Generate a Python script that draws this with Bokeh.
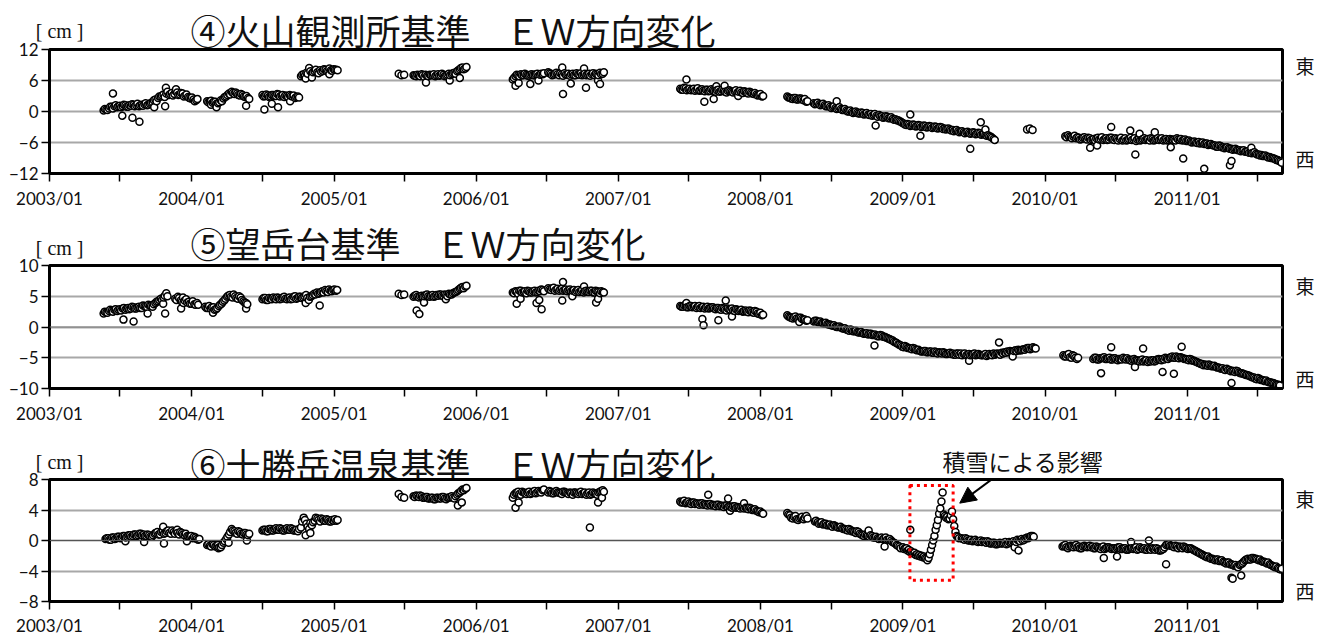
import numpy as np
from bokeh.plotting import figure
from bokeh.layouts import column
from bokeh.models import (Range1d, FixedTicker, CustomJSTickFormatter, Label, Arrow,
                          NormalHead, BoxAnnotation, Span, LinearAxis)
from bokeh.embed import file_html
from bokeh.resources import INLINE

# ---------------------------------------------------------------- data
WEEK = 7          # base readings every 7 days
MID_OFFSET = 3    # second readings 3 days after each base reading
SNOW_STEP = 3

# ④ 火山観測所基準 (EW, cm)
kazan_a = [0.2, 0.4, 0.6, 0.9, 1.0, 0.8, 1.1, 1.0, 1.2, 0.9, 1.1, 1.3, 1.2, 1.0, 1.3, 1.4, 1.2, 1.5,
           1.8, 2.3, 2.6, 2.9, 3.3, 3.5, 3.2, 3.6, 3.4, 3.7, 3.3, 3.5, 3.1, 2.8, 2.5, 2.3, 2.2]
kazan_a_mid = [0.5, 0.3, 0.9, 0.6, 1.2, 1.0, 0.8, 1.3, 0.9, 1.2, 1.4, 1.0, 1.5, 1.2, 1.1, 1.6, 1.3, 1.7,
               2.2, 2.0, 2.9, 3.1, 2.8, 3.8, 3.4, 3.1, 3.9, 3.2, 3.6, 2.9, 3.3, 2.6, 2.7, 2.0, 2.4]
kazan_b = [2.0, 1.9, 1.7, 1.9, 1.6, 2.2, 2.5, 2.9, 3.5, 3.8, 3.4, 3.5, 3.1, 3.2, 2.8, 2.6]
kazan_b_mid = [1.8, 2.1, 1.9, 1.5, 1.8, 2.0, 2.8, 3.2, 3.3, 3.6, 3.7, 3.2, 3.4, 2.9, 3.0, 2.4]
kazan_c = [3.2, 3.0, 3.1, 2.9, 3.2, 3.0, 3.3, 3.1, 2.8, 3.0, 3.2, 2.9, 2.6, 2.9]
kazan_c_mid = [2.9, 3.3, 2.8, 3.2, 3.0, 3.4, 2.9, 3.2, 3.1, 2.8, 3.0, 3.1, 2.8, 2.7]
kazan_d = [6.8, 7.2, 7.5, 8.4, 7.4, 7.8, 7.6, 8.0, 7.9, 8.1, 7.8, 8.0, 8.2, 8.1]
kazan_d_mid = [7.1, 6.9, 7.3, 7.8, 7.6, 8.1, 7.4, 7.7, 8.2, 7.8, 8.3, 7.9, 8.1, 8.0]
kazan_e1 = [7.3, 7.0, 7.1]
kazan_e2 = [7.0, 6.8, 7.0, 7.2, 6.7, 6.9, 7.1, 7.0, 6.8, 7.2, 7.0, 7.1, 6.9, 7.3, 7.2, 7.5, 7.8, 8.2,
            8.5, 8.3]
kazan_e2_mid = [6.9, 7.1, 6.8, 7.0, 7.1, 6.8, 7.0, 7.2, 7.0, 6.9, 7.3, 6.8, 7.1, 7.0, 7.4, 7.3, 8.0,
                8.4, 8.2, 8.6]
kazan_f = [6.2, 6.8, 7.0, 7.2, 7.0, 7.1, 6.9, 7.2, 7.0, 7.3, 7.1, 7.2]
kazan_f_mid = [6.5, 7.1, 6.8, 7.0, 7.3, 6.9, 7.1, 7.0, 7.2, 6.9, 7.3, 7.4]
kazan_g = [7.6, 7.3, 7.1, 7.5, 7.0, 7.2, 7.4, 7.1, 6.9, 7.3, 7.0, 7.2, 7.4, 7.1, 7.0, 7.3, 7.2, 7.0,
           7.2, 7.5, 7.3]
kazan_g_mid = [7.4, 7.0, 7.3, 7.2, 7.4, 6.9, 7.1, 7.3, 7.2, 7.0, 7.4, 7.1, 7.0, 7.3, 7.2, 6.9, 7.4,
               7.3, 7.0, 7.2, 7.6]
kazan_h = [4.4, 4.2, 4.5, 4.3, 4.1, 4.4, 4.2, 4.0, 4.3, 3.9, 4.2, 4.0, 4.1, 3.8, 4.2, 3.9, 4.0, 3.7,
           4.1, 3.8, 3.9, 3.7, 4.0, 3.6, 3.8, 3.5, 3.7, 3.4, 3.3, 3.2, 2.9]
kazan_h_mid = [4.2, 4.6, 4.1, 4.4, 4.3, 4.0, 4.5, 4.1, 4.0, 4.2, 3.9, 4.3, 3.9, 4.1, 3.8, 4.2, 3.8,
               4.0, 3.9, 3.7, 4.1, 3.8, 3.7, 3.9, 3.6, 3.8, 3.5, 3.6, 3.1, 3.4, 3.0]
kazan_i = [2.9, 2.6, 2.4, 2.6, 2.3, 2.5, 2.2, 1.9]
kazan_i_mid = [2.7, 2.5, 2.6, 2.3, 2.5, 2.3, 2.4, 2.0]
kazan_j = [1.6, 1.5, 1.4, 1.3, 1.2, 1.0, 0.9, 0.8, 0.7, 0.6, 0.5, 0.3, 0.2, 0.0, -0.1, -0.2, -0.2,
           -0.4, -0.3, -0.5, -0.6, -0.5, -0.7, -0.8, -0.7, -0.9, -1.1, -1.0, -1.3, -1.4, -1.5, -1.7,
           -2.0, -2.3, -2.6, -2.5, -2.7, -2.6, -2.8, -2.7, -2.9, -2.8, -3.0, -2.9, -3.1, -3.0, -3.2,
           -3.1, -3.3, -3.4, -3.5, -3.6, -3.7, -3.8, -3.9, -4.0, -4.0, -4.1, -4.2, -4.1, -4.3, -4.2,
           -4.4, -4.5, -4.6, -4.9, -5.3]
kazan_j_mid = [1.4, 1.7, 1.2, 1.5, 1.0, 1.2, 0.7, 1.0, 0.5, 0.8, 0.3, 0.5, 0.0, 0.2, -0.3, 0.0, -0.4,
               -0.2, -0.6, -0.3, -0.7, -0.8, -0.5, -1.0, -0.9, -1.2, -0.9, -1.3, -1.1, -1.6, -1.7,
               -1.9, -2.2, -2.5, -2.4, -2.8, -2.5, -2.9, -2.6, -3.0, -2.7, -3.1, -2.8, -3.2, -2.9,
               -3.3, -3.0, -3.4, -3.5, -3.3, -3.7, -3.8, -3.6, -4.0, -3.8, -4.2, -3.9, -4.3, -4.0,
               -4.4, -4.1, -4.5, -4.3, -4.7, -4.8, -5.1, -5.5]
kazan_k = [-3.5, -3.3, -3.6]
kazan_l = [-4.8, -4.6, -5.0, -4.9, -5.2, -5.1, -5.3, -5.0, -5.4, -5.2, -5.4, -5.6, -5.1, -5.3, -5.5,
           -5.2, -5.4, -5.1, -5.5, -5.3, -5.3, -5.6, -5.2, -5.5, -5.1, -5.4, -5.7, -5.3, -5.5, -5.2,
           -5.4, -5.6, -5.3, -5.5, -5.2, -5.4, -5.6, -5.3, -5.5, -5.4, -5.4, -5.2, -5.5, -5.6, -5.4,
           -5.7, -5.8, -5.9, -6.0, -5.9, -6.1, -6.3, -6.2, -6.4, -6.5, -6.6, -6.8, -6.7, -6.9, -7.0,
           -7.1, -7.2, -7.3, -7.4, -7.5, -7.6, -7.8, -7.7, -7.9, -8.0, -8.2, -8.3, -8.4, -8.6, -8.7,
           -8.8, -9.0, -9.2, -9.4, -9.7]
kazan_l_mid = [-5.0, -4.9, -5.2, -4.7, -5.0, -5.4, -5.1, -5.3, -5.1, -5.5, -5.3, -5.2, -5.4, -5.0,
               -5.3, -5.5, -5.1, -5.4, -5.2, -5.6, -5.1, -5.4, -5.6, -5.3, -5.5, -5.2, -5.4, -5.6,
               -5.3, -5.5, -5.3, -5.2, -5.6, -5.3, -5.5, -5.2, -5.4, -5.6, -5.3, -5.5, -5.6, -5.4,
               -5.3, -5.5, -5.7, -5.6, -6.0, -5.8, -6.1, -6.2, -6.0, -6.2, -6.5, -6.3, -6.6, -6.8,
               -6.6, -6.9, -7.1, -6.9, -7.2, -7.4, -7.2, -7.5, -7.7, -7.5, -7.7, -8.0, -8.1, -7.9,
               -8.3, -8.5, -8.6, -8.5, -8.9, -9.0, -9.1, -9.4, -9.6, -9.9]
kazan_starts = ["2003-05-20", "2004-02-10", "2004-07-01", "2004-10-08", "2005-06-16", "2005-07-24",
                "2006-04-05", "2006-07-05", "2007-06-09", "2008-03-10", "2008-05-17", "2009-11-16",
                "2010-02-22"]
kazan_out_dates = ["2003-06-13", "2003-07-07", "2003-08-02", "2003-08-20", "2003-09-27", "2003-10-25",
                   "2003-10-27", "2003-11-22", "2004-02-20", "2004-03-05", "2004-05-20", "2004-07-06",
                   "2004-08-10", "2004-07-25", "2004-09-10", "2004-10-20", "2004-11-05", "2004-12-20",
                   "2005-08-25", "2005-10-25", "2005-11-20", "2006-04-12", "2006-04-20", "2006-05-20",
                   "2006-06-10", "2006-08-10", "2006-08-12", "2006-10-05", "2006-10-10", "2006-11-10",
                   "2006-11-15", "2006-09-01", "2007-06-25", "2007-08-10", "2007-09-03", "2007-09-10",
                   "2007-10-01", "2007-11-05", "2008-07-15", "2008-10-23", "2009-01-20", "2009-02-15",
                   "2009-06-23", "2009-07-20", "2009-08-01", "2010-04-27", "2010-05-15", "2010-06-20",
                   "2010-08-08", "2010-08-21", "2010-09-01", "2010-10-10", "2010-11-20", "2010-12-22",
                   "2011-02-14", "2011-04-21", "2011-04-25", "2011-06-15"]
kazan_out_vals = [3.5, -0.8, -1.2, -2.0, 0.8, 1.0, 4.6, 4.3, 1.3, 0.8, 1.1, 0.4, 0.8, 1.5, 2.0, 6.4,
                  6.6, 7.2, 5.6, 6.0, 6.5, 5.0, 5.5, 5.3, 6.0, 8.5, 3.4, 8.3, 4.6, 6.0, 5.3, 5.4, 6.2,
                  1.9, 2.4, 4.9, 5.0, 3.0, 2.0, -2.7, -0.6, -4.7, -7.2, -2.1, -3.5, -7.0, -6.6, -3.0,
                  -3.7, -8.3, -4.3, -4.0, -6.9, -9.1, -11.1, -10.4, -9.6, -7.0]

# ⑤ 望岳台基準 (EW, cm)
bogaku_a = [2.2, 2.4, 2.6, 2.7, 2.8, 2.6, 2.9, 3.0, 2.8, 3.1, 3.0, 3.2, 3.0, 3.3, 3.1, 3.4, 3.2, 3.5,
            3.3, 3.9, 4.2, 4.6, 4.8, 5.5]
bogaku_a_mid = [2.5, 2.3, 2.8, 2.5, 2.9, 2.8, 2.7, 3.1, 3.0, 2.9, 3.3, 3.0, 3.2, 3.1, 3.5, 3.3, 3.6,
                3.4, 3.7, 4.1, 4.4, 4.4, 5.1, 5.0]
bogaku_b = [4.6, 4.9, 4.3, 3.9, 4.5, 4.1, 3.8, 3.7, 3.9]
bogaku_b_mid = [4.4, 4.7, 4.1, 4.3, 4.0, 3.8, 4.2, 3.6, 3.6]
bogaku_c = [3.3, 3.1, 3.0, 3.2, 2.9, 3.4, 3.8, 4.3, 4.9, 5.2, 4.8, 5.0, 4.6, 4.8, 4.2, 3.9]
bogaku_c_mid = [3.1, 3.4, 3.2, 2.8, 3.1, 3.6, 4.1, 4.6, 5.1, 4.9, 5.3, 4.7, 5.0, 4.4, 4.0, 3.7]
bogaku_d = [4.5, 4.7, 4.4, 4.6, 4.8, 4.5, 4.7, 4.6, 4.9, 4.5, 4.8, 4.6, 5.0, 4.7, 4.9, 4.8, 5.2, 4.4,
            5.0, 5.4, 5.6, 5.5, 5.8, 6.0, 5.7, 5.9, 6.0, 5.9]
bogaku_d_mid = [4.7, 4.4, 4.7, 4.5, 4.6, 4.8, 4.5, 4.8, 4.6, 4.7, 4.5, 4.9, 4.6, 4.9, 4.7, 5.0, 4.7,
                4.9, 5.2, 5.3, 5.4, 5.7, 5.6, 5.8, 6.1, 5.8, 6.1, 6.0]
bogaku_e1 = [5.4, 5.2, 5.3]
bogaku_e2 = [4.9, 5.2, 4.8, 5.1, 5.0, 5.3, 4.9, 5.2, 5.0, 5.1, 5.3, 5.0, 5.2, 5.4, 5.3, 5.6, 5.8, 6.2,
             6.5, 6.6]
bogaku_e2_mid = [5.1, 4.9, 5.0, 4.9, 5.2, 5.0, 5.1, 4.9, 5.2, 5.3, 5.1, 5.3, 5.0, 5.3, 5.5, 5.7, 6.0,
                 6.4, 6.3, 6.7]
bogaku_f = [5.6, 5.8, 5.4, 5.9, 5.7, 5.5, 5.8, 5.6, 5.9, 5.7, 5.8, 6.0]
bogaku_f_mid = [5.5, 5.7, 5.9, 5.6, 5.8, 5.9, 5.6, 5.8, 5.6, 5.9, 6.1, 5.8]
bogaku_g = [6.3, 6.0, 6.4, 6.1, 5.9, 6.2, 6.0, 5.8, 6.1, 5.9, 5.7, 6.0, 5.8, 5.6, 5.9, 5.7, 5.9, 5.6,
            5.8, 5.5, 5.7]
bogaku_g_mid = [6.1, 6.3, 5.9, 6.2, 6.1, 5.9, 6.1, 6.0, 5.8, 6.0, 5.9, 5.7, 6.0, 5.8, 5.7, 5.9, 5.6,
                5.9, 5.7, 5.8, 5.6]
bogaku_h = [3.4, 3.3, 3.5, 3.2, 3.4, 3.3, 3.1, 3.4, 3.2, 3.0, 3.3, 3.1, 3.2, 2.9, 3.1, 2.8, 3.0, 2.7,
            2.9, 3.0, 2.6, 2.8, 2.7, 2.5, 2.7, 2.4, 2.6, 2.3, 2.5, 2.1, 1.9]
bogaku_h_mid = [3.3, 3.5, 3.2, 3.4, 3.2, 3.4, 3.3, 3.1, 3.3, 3.2, 3.0, 3.2, 3.0, 3.1, 2.9, 3.1, 2.8,
                3.0, 2.8, 2.7, 2.9, 2.6, 2.8, 2.6, 2.5, 2.7, 2.4, 2.6, 2.2, 2.3, 2.0]
bogaku_i = [1.9, 1.6, 1.4, 1.7, 1.3, 1.5, 1.2, 1.0]
bogaku_i_mid = [1.7, 1.5, 1.6, 1.4, 1.5, 1.3, 1.2, 1.1]
bogaku_j = [0.9, 1.0, 0.8, 0.7, 0.6, 0.5, 0.4, 0.2, 0.1, 0.0, -0.1, -0.3, -0.4, -0.6, -0.5, -0.7,
            -0.8, -0.9, -1.0, -1.1, -1.2, -1.1, -1.3, -1.4, -1.5, -1.4, -1.6, -1.8, -2.0, -2.2, -2.5,
            -2.8, -3.0, -3.3, -3.2, -3.4, -3.6, -3.5, -3.8, -3.9, -4.0, -3.9, -4.1, -4.0, -4.2, -4.1,
            -4.1, -4.3, -4.2, -4.4, -4.2, -4.3, -4.5, -4.3, -4.3, -4.4, -4.6, -4.4, -4.5, -4.3, -4.5,
            -4.5, -4.6, -4.4, -4.6, -4.5, -4.3, -4.4, -4.4, -4.2, -4.1, -4.0, -3.9, -4.0, -3.8, -3.7,
            -3.8, -3.6, -3.5, -3.4, -3.5, -3.4]
bogaku_j_mid = [1.0, 0.8, 0.9, 0.6, 0.7, 0.4, 0.3, 0.3, 0.0, 0.1, -0.2, -0.2, -0.5, -0.4, -0.7, -0.6,
                -0.9, -0.8, -1.1, -1.0, -1.1, -1.3, -1.2, -1.5, -1.3, -1.6, -1.7, -1.9, -2.1, -2.4,
                -2.6, -2.9, -3.2, -3.1, -3.4, -3.5, -3.4, -3.7, -3.7, -4.0, -3.9, -4.1, -4.0, -4.2,
                -4.0, -4.3, -4.2, -4.1, -4.4, -4.3, -4.4, -4.5, -4.3, -4.5, -4.6, -4.3, -4.5, -4.6,
                -4.4, -4.6, -4.4, -4.6, -4.5, -4.7, -4.4, -4.6, -4.5, -4.3, -4.5, -4.3, -4.2, -4.1,
                -4.0, -3.9, -3.9, -3.8, -3.7, -3.7, -3.4, -3.6, -3.3, -3.5]
bogaku_l1 = [-4.6, -4.8, -4.4, -5.0, -4.7, -5.2]
bogaku_l1_mid = [-4.8, -4.5, -4.9, -4.6, -5.0, -5.0]
bogaku_l2 = [-5.2, -5.0, -5.3, -5.1, -4.9, -5.2, -5.0, -5.3, -5.1, -5.4, -5.2, -5.0, -5.3, -5.3, -5.5,
             -5.2, -5.4, -5.6, -5.3, -5.5, -5.7, -5.6, -5.4, -5.5, -5.2, -5.4, -5.3, -5.1, -5.0, -4.8,
             -5.0, -4.9, -4.9, -5.1, -5.2, -5.4, -5.3, -5.5, -5.7, -5.9, -6.0, -6.1, -6.3, -6.2, -6.4,
             -6.5, -6.6, -6.8, -6.9, -6.8, -7.0, -7.1, -7.3, -7.2, -7.5, -7.6, -7.8, -7.9, -8.1, -8.2,
             -8.5, -8.4, -8.6, -8.8, -8.9, -9.0, -9.1, -9.3, -9.4]
bogaku_l2_mid = [-5.0, -5.3, -5.1, -5.0, -5.2, -5.1, -5.3, -5.1, -5.3, -5.2, -5.3, -5.2, -5.1, -5.4,
                 -5.3, -5.4, -5.5, -5.4, -5.6, -5.4, -5.5, -5.4, -5.6, -5.3, -5.3, -5.2, -5.0, -5.2,
                 -4.9, -5.0, -4.8, -5.1, -5.0, -5.2, -5.3, -5.2, -5.5, -5.6, -5.8, -6.0, -6.2, -6.2,
                 -6.1, -6.4, -6.3, -6.6, -6.7, -6.7, -7.0, -7.0, -7.2, -7.2, -7.1, -7.4, -7.5, -7.7,
                 -7.8, -8.0, -8.2, -8.4, -8.3, -8.6, -8.7, -8.7, -9.0, -9.1, -9.2, -9.4, -9.5]
bogaku_starts = ["2003-05-20", "2003-11-20", "2004-02-05", "2004-07-01", "2005-06-16", "2005-07-24",
                 "2006-04-05", "2006-07-05", "2007-06-09", "2008-03-10", "2008-05-17", "2010-02-17",
                 "2010-05-05"]
bogaku_out_dates = ["2003-07-10", "2003-08-05", "2003-09-10", "2003-10-25", "2003-10-20", "2003-12-05",
                    "2003-12-10", "2004-02-25", "2004-05-20", "2004-11-25", "2004-10-20", "2005-08-01",
                    "2005-08-08", "2005-08-20", "2005-10-15", "2006-04-15", "2006-04-25", "2006-06-05",
                    "2006-06-12", "2006-06-18", "2006-08-12", "2006-08-10", "2006-09-05", "2006-10-05",
                    "2006-11-05", "2006-11-10", "2007-06-25", "2007-08-05", "2007-08-08", "2007-09-15",
                    "2007-10-04", "2007-10-20", "2008-04-10", "2008-10-20", "2009-06-20", "2009-09-05",
                    "2009-10-10", "2010-05-25", "2010-06-20", "2010-08-20", "2010-09-10", "2010-10-30",
                    "2010-11-28", "2010-12-18", "2011-04-25"]
bogaku_out_vals = [1.2, 0.9, 2.2, 2.2, 3.8, 3.0, 4.8, 2.3, 3.0, 3.5, 3.9, 2.7, 2.1, 4.0, 4.5, 3.8, 4.6,
                   3.9, 4.4, 2.9, 7.3, 4.3, 5.0, 6.6, 4.0, 4.6, 3.9, 1.3, 0.3, 1.1, 4.3, 1.7, 0.8,
                   -3.0, -5.5, -2.5, -4.8, -7.5, -3.3, -6.5, -3.5, -7.3, -7.6, -3.2, -9.1]

# ⑥ 十勝岳温泉基準 (EW, cm)
tokachi_a = [0.2, 0.3, 0.1, 0.4, 0.3, 0.5, 0.4, 0.6, 0.5, 0.7, 0.6, 0.8, 0.7, 0.9, 0.8, 0.6, 0.7, 0.5,
             0.9, 1.1, 0.8, 1.2, 1.0, 1.3, 0.9, 1.1, 1.2, 0.8, 1.0, 0.7, 0.6, 0.5, 0.3, 0.4, 0.1]
tokachi_a_mid = [0.3, 0.1, 0.4, 0.2, 0.5, 0.3, 0.6, 0.4, 0.7, 0.5, 0.8, 0.6, 0.9, 0.7, 0.6, 0.8, 0.5,
                 0.7, 1.0, 0.8, 1.1, 0.9, 1.2, 1.0, 1.3, 0.9, 1.0, 1.1, 0.8, 0.9, 0.5, 0.6, 0.5, 0.2,
                 0.2]
tokachi_b = [-0.6, -0.7, -0.5, -0.8, -0.6, -0.9, -0.3, 0.2, 0.8, 1.5, 1.2, 0.9, 1.1, 0.8, 1.0, 0.7]
tokachi_b_mid = [-0.5, -0.8, -0.6, -0.7, -0.9, -0.6, -0.1, 0.5, 1.1, 1.3, 1.0, 1.2, 0.9, 1.0, 0.8, 0.9]
tokachi_c = [1.3, 1.4, 1.2, 1.5, 1.3, 1.6, 1.4, 1.5, 1.3, 1.6, 1.4, 1.5, 1.3, 1.2]
tokachi_c_mid = [1.4, 1.2, 1.5, 1.3, 1.5, 1.4, 1.6, 1.3, 1.5, 1.4, 1.6, 1.3, 1.4, 1.5]
tokachi_d = [1.7, 3.0, 2.2, 1.5, 2.0, 2.6, 2.9, 2.5, 2.8, 2.6, 2.7, 2.5, 2.6, 2.6]
tokachi_d_mid = [2.5, 2.7, 1.8, 2.3, 2.4, 3.0, 2.7, 2.9, 2.6, 2.8, 2.5, 2.7, 2.8, 2.7]
tokachi_e1 = [6.1, 5.7, 5.6]
tokachi_e2 = [5.8, 5.9, 5.7, 5.8, 5.6, 5.7, 5.5, 5.6, 5.4, 5.6, 5.5, 5.7, 5.4, 5.6, 5.8, 5.5, 6.0, 6.3,
              6.7, 6.8]
tokachi_e2_mid = [5.7, 5.8, 5.9, 5.6, 5.7, 5.5, 5.6, 5.4, 5.6, 5.5, 5.7, 5.5, 5.6, 5.7, 5.6, 5.8, 6.2,
                  6.5, 6.6, 6.9]
tokachi_f = [5.6, 6.2, 6.4, 6.0, 6.3, 6.1, 6.4, 6.2, 6.5, 6.3, 6.4, 6.6]
tokachi_f_mid = [6.0, 6.3, 6.1, 6.4, 6.2, 6.3, 6.1, 6.4, 6.2, 6.5, 6.3, 6.7]
tokachi_g = [6.3, 6.4, 6.2, 6.5, 6.3, 6.1, 6.4, 6.2, 6.3, 6.0, 6.3, 6.1, 6.4, 6.2, 6.0, 6.3, 6.1, 6.2,
             6.0, 6.4, 6.6]
tokachi_g_mid = [6.5, 6.2, 6.4, 6.3, 6.2, 6.4, 6.3, 6.1, 6.2, 6.3, 6.2, 6.3, 6.1, 6.3, 6.2, 6.0, 6.3,
                 6.1, 6.3, 6.5, 6.4]
tokachi_h = [5.1, 5.0, 4.9, 5.1, 4.8, 5.0, 4.9, 4.7, 4.9, 4.8, 4.6, 4.8, 4.7, 4.5, 4.7, 4.6, 4.4, 4.6,
             4.5, 4.3, 4.5, 4.4, 4.2, 4.4, 4.3, 4.1, 4.2, 4.0, 3.9, 3.7, 3.6]
tokachi_h_mid = [5.0, 5.2, 5.0, 4.9, 5.0, 4.8, 4.8, 4.9, 4.7, 4.7, 4.8, 4.6, 4.6, 4.7, 4.5, 4.5, 4.6,
                 4.4, 4.4, 4.5, 4.3, 4.3, 4.4, 4.2, 4.2, 4.3, 4.0, 4.1, 3.8, 3.8, 3.5]
tokachi_i = [3.6, 3.3, 2.9, 3.2, 2.7, 3.0, 2.8, 3.2]
tokachi_i_mid = [3.4, 3.0, 3.1, 2.8, 2.9, 3.1, 3.0, 2.9]
tokachi_j = [2.5, 2.4, 2.3, 2.1, 2.2, 2.0, 1.9, 2.0, 1.8, 1.7, 1.6, 1.5, 1.3, 1.4, 1.2, 1.0, 1.1, 0.8,
             0.6, 0.7, 0.5, 0.6, 0.4, 0.3, 0.3, 0.2, 0.4, 0.1, 0.0, -0.3, -0.6, -0.8]
tokachi_j_mid = [2.6, 2.2, 2.4, 2.2, 2.0, 2.1, 1.8, 1.9, 1.7, 1.8, 1.5, 1.4, 1.5, 1.2, 1.1, 1.2, 0.9,
                 0.7, 0.8, 0.6, 0.7, 0.4, 0.5, 0.2, 0.4, 0.3, 0.1, 0.2, -0.2, -0.4, -0.7, -1.0]
tokachi_snow = [-0.9, -1.1, -1.0, -1.0, -1.3, -1.2, -1.5, -1.4, -1.6, -1.7, -1.6, -1.9, -1.8, -2.0,
                -1.9, -2.1, -2.0, -2.2, -2.1, -2.3, -2.4, -2.6, -2.3, -1.8, -1.2, -0.6, 0.0, 0.6, 1.4,
                2.0, 2.7, 3.5, 4.2, 5.1, 6.3, 3.4, 3.2, 3.0, 3.1, 2.8, 2.9, 3.3, 3.8, 2.8, 1.9, 1.1,
                0.6, 0.5, 0.3]
tokachi_t = [0.3, 0.1, 0.2, 0.0, -0.1, 0.1, -0.2, 0.0, -0.1, -0.3, -0.2, -0.4, -0.3, -0.5, -0.3, -0.4,
             -0.2, -0.4, -0.3, -0.1, -0.2, 0.0, 0.2, 0.1, 0.4, 0.5, 0.6]
tokachi_t_mid = [0.2, 0.3, 0.0, 0.1, 0.0, -0.1, -0.1, -0.2, -0.2, -0.1, -0.4, -0.3, -0.5, -0.4, -0.4,
                 -0.3, -0.5, -0.2, -0.2, -0.3, 0.1, -0.1, 0.0, 0.3, 0.3, 0.6, 0.5]
tokachi_l = [-0.8, -0.6, -1.0, -0.7, -0.9, -0.6, -0.8, -1.0, -0.7, -0.9, -0.7, -0.8, -1.0, -0.9, -1.1,
             -0.8, -1.0, -0.9, -1.1, -1.0, -1.0, -0.9, -1.1, -1.0, -1.2, -1.0, -1.1, -0.9, -1.1, -1.0,
             -1.0, -1.2, -1.1, -1.0, -1.2, -1.1, -1.3, -1.1, -0.6, -0.5, -0.7, -0.9, -0.8, -0.8, -1.0,
             -0.9, -1.1, -1.0, -1.2, -1.4, -1.6, -1.8, -2.0, -2.2, -2.3, -2.4, -2.6, -2.5, -2.7, -2.8,
             -3.0, -2.9, -3.1, -3.3, -3.4, -3.2, -3.0, -2.6, -2.4, -2.5, -2.3, -2.4, -2.6, -2.7, -2.8,
             -3.0, -3.1, -3.3, -3.5, -3.6, -3.8]
tokachi_l_mid = [-0.7, -0.9, -0.8, -0.8, -0.7, -0.9, -1.0, -0.8, -0.8, -0.8, -0.9, -1.0, -0.8, -1.0,
                 -0.9, -1.1, -0.9, -1.0, -1.0, -1.1, -0.9, -1.1, -1.0, -1.2, -1.1, -1.0, -1.0, -1.2,
                 -0.9, -1.1, -1.2, -1.0, -1.2, -1.1, -1.0, -1.3, -1.2, -0.9, -0.5, -0.7, -0.8, -0.7,
                 -1.0, -0.9, -0.8, -1.0, -1.0, -1.1, -1.3, -1.5, -1.7, -1.9, -2.1, -2.1, -2.4, -2.5,
                 -2.5, -2.7, -2.6, -2.9, -2.9, -3.1, -3.2, -3.2, -3.5, -3.1, -2.8, -2.5, -2.5, -2.3,
                 -2.4, -2.5, -2.5, -2.8, -2.9, -2.9, -3.2, -3.4, -3.4, -3.7, -3.7]
tokachi_starts = ["2003-05-25", "2004-02-10", "2004-07-01", "2004-10-08", "2005-06-16", "2005-07-24",
                  "2006-04-05", "2006-07-05", "2007-06-09", "2008-03-10", "2008-05-20", "2009-01-01",
                  "2009-06-01", "2010-02-15"]
tokachi_out_dates = ["2003-07-15", "2003-09-01", "2003-10-20", "2003-10-22", "2003-11-25", "2003-12-20",
                     "2004-03-10", "2004-04-05", "2004-05-22", "2004-10-20", "2004-11-01", "2005-11-15",
                     "2005-11-25", "2006-04-12", "2006-04-20", "2006-10-20", "2006-11-10", "2006-11-20",
                     "2007-08-20", "2007-10-10", "2007-10-15", "2007-11-20", "2008-11-15", "2008-10-05",
                     "2009-01-20", "2009-10-15", "2009-10-25", "2010-06-01", "2010-07-05", "2010-08-10",
                     "2010-09-25", "2010-11-08", "2011-04-25", "2011-04-28", "2011-05-20"]
tokachi_out_vals = [-0.1, -0.2, 1.8, -0.4, 1.4, -0.1, -1.0, -0.3, 0.0, 0.7, 1.0, 4.6, 5.0, 4.3, 5.0,
                    1.7, 5.0, 5.6, 6.0, 5.5, 3.9, 4.9, -0.8, 1.3, 1.4, -0.9, -1.3, -2.3, -2.1, -0.2,
                    0.0, -3.1, -4.9, -5.0, -4.6]

titles = ["④火山観測所基準　ＥＷ方向変化", "⑤望岳台基準　ＥＷ方向変化", "⑥十勝岳温泉基準　ＥＷ方向変化"]
unit_text = "[ cm ]"
east_text, west_text = "東", "西"
y_limits = [(-12, 12), (-10, 10), (-8, 8)]
y_ticks = [[-12, -6, 0, 6, 12], [-10, -5, 0, 5, 10], [-8, -4, 0, 4, 8]]
east_west_pos = [(8.9, -9.1), (6.8, -8.3), (5.5, -6.6)]
snow_note = "積雪による影響"
X_START, X_END = "2003-01-01", "2011-09-03"


# ---------------------------------------------------------------- helpers
def ms(d):
    return float(np.datetime64(d, "ms").astype("int64"))


def build(segments, out_dates, out_vals):
    xs, ys = [], []
    for start, step, vals, mids in segments:
        base = np.datetime64(start, "D")
        for i, v in enumerate(vals):
            xs.append(ms(base + np.timedelta64(i * step, "D")))
            ys.append(v)
        if mids is not None:
            for i, v in enumerate(mids):
                xs.append(ms(base + np.timedelta64(i * step + MID_OFFSET, "D")))
                ys.append(v)
    for d, v in zip(out_dates, out_vals):
        xs.append(ms(d))
        ys.append(v)
    order = np.argsort(np.array(xs), kind="stable")
    return np.array(xs)[order], np.array(ys)[order]


kazan_vals = [kazan_a, kazan_b, kazan_c, kazan_d, kazan_e1, kazan_e2, kazan_f, kazan_g, kazan_h,
              kazan_i, kazan_j, kazan_k, kazan_l]
kazan_mids = [kazan_a_mid, kazan_b_mid, kazan_c_mid, kazan_d_mid, None, kazan_e2_mid, kazan_f_mid,
              kazan_g_mid, kazan_h_mid, kazan_i_mid, kazan_j_mid, None, kazan_l_mid]
bogaku_vals = [bogaku_a, bogaku_b, bogaku_c, bogaku_d, bogaku_e1, bogaku_e2, bogaku_f, bogaku_g,
               bogaku_h, bogaku_i, bogaku_j, bogaku_l1, bogaku_l2]
bogaku_mids = [bogaku_a_mid, bogaku_b_mid, bogaku_c_mid, bogaku_d_mid, None, bogaku_e2_mid,
               bogaku_f_mid, bogaku_g_mid, bogaku_h_mid, bogaku_i_mid, bogaku_j_mid, bogaku_l1_mid,
               bogaku_l2_mid]
tokachi_vals = [tokachi_a, tokachi_b, tokachi_c, tokachi_d, tokachi_e1, tokachi_e2, tokachi_f,
                tokachi_g, tokachi_h, tokachi_i, tokachi_j, tokachi_snow, tokachi_t, tokachi_l]
tokachi_mids = [tokachi_a_mid, tokachi_b_mid, tokachi_c_mid, tokachi_d_mid, None, tokachi_e2_mid,
                tokachi_f_mid, tokachi_g_mid, tokachi_h_mid, tokachi_i_mid, tokachi_j_mid, None,
                tokachi_t_mid, tokachi_l_mid]
tokachi_steps = [WEEK] * 11 + [SNOW_STEP] + [WEEK, WEEK]

series = [
    build([(s, WEEK, v, m) for s, v, m in zip(kazan_starts, kazan_vals, kazan_mids)],
          kazan_out_dates, kazan_out_vals),
    build([(s, WEEK, v, m) for s, v, m in zip(bogaku_starts, bogaku_vals, bogaku_mids)],
          bogaku_out_dates, bogaku_out_vals),
    build([(s, st, v, m) for s, st, v, m in zip(tokachi_starts, tokachi_steps, tokachi_vals,
                                                 tokachi_mids)],
          tokachi_out_dates, tokachi_out_vals),
]

x_ticks = []
for yr in range(2003, 2012):
    x_ticks.append(ms(f"{yr}-01-01"))
    x_ticks.append(ms(f"{yr}-07-01"))

TICK_FONT = "Lato"
JP_FONT = "Noto Sans CJK JP"
TEXT_COLOR = "#111111"
W = 1319
FRAME_L, FRAME_R = 49, 1282      # frame edges in page pixels (shared by every strip)
EXT = 8                           # headers reach this far below their nominal bottom
OVERLAP = 20 + EXT                # each plot canvas slides up under its header strip
HEAD_OVERLAP = 10                 # headers 2 and 3 slide up under the previous plot's bottom
TOP_GAP = 12                      # plot border above its frame

# header strip geometry: nominal height, title y, unit y (px above the nominal bottom)
headers = [
    dict(h=57, ty=28, uy=27, up=0),
    dict(h=50, ty=31, uy=26, up=HEAD_OVERLAP),
    dict(h=49, ty=24, uy=26, up=HEAD_OVERLAP),
]
UNIT_RIGHT = 83                   # right edge of "[ cm ]" in page px
# plot geometry: frame height, border bottom, label standoff
plots = [
    dict(fh=124, bb=50, std=6),
    dict(fh=123, bb=50, std=6),
    dict(fh=123, bb=36, std=5),
]


def header_fig(k):
    H = headers[k]
    hh = H["h"] + H["up"] + EXT
    h = figure(width=W, height=hh, output_backend="svg", toolbar_location=None,
               x_range=Range1d(FRAME_L, FRAME_R), y_range=Range1d(-EXT, hh - EXT),
               min_border_left=FRAME_L, min_border_right=W - FRAME_R,
               min_border_top=0, min_border_bottom=0,
               x_axis_location=None, y_axis_location=None,
               margin=(-H["up"], 0, 0, 0))
    h.grid.visible = False
    h.outline_line_color = None
    h.background_fill_color = None
    h.border_fill_color = None
    h.add_layout(Label(x=190, y=H["ty"], text=titles[k], text_font=JP_FONT, text_font_size="35px",
                       text_color=TEXT_COLOR, text_baseline="middle", text_align="left"))
    # "[ cm ]" sits partly left of the frame: draw it as the single tick label of a left axis
    unit_axis = LinearAxis(ticker=FixedTicker(ticks=[H["uy"]]),
                           formatter=CustomJSTickFormatter(args=dict(t=unit_text),
                                                           code="return t;"),
                           axis_line_color=None, major_tick_line_color=None,
                           minor_tick_line_color=None, major_tick_out=0, major_tick_in=0,
                           major_label_standoff=FRAME_L - UNIT_RIGHT,
                           major_label_text_font="Liberation Serif",
                           major_label_text_font_size="20px", major_label_text_color=TEXT_COLOR)
    h.add_layout(unit_axis, "left")
    if k == 2:
        h.add_layout(Label(x=942, y=27, text=snow_note, text_font=JP_FONT, text_font_size="23px",
                           text_color=TEXT_COLOR, text_baseline="middle", text_align="left"))
    return h


def plot_fig(k):
    P = plots[k]
    xs, ys = series[k]
    p = figure(width=W, height=TOP_GAP + P["fh"] + P["bb"], output_backend="svg",
               toolbar_location=None,
               x_range=Range1d(ms(X_START), ms(X_END)), y_range=Range1d(*y_limits[k]),
               min_border_left=FRAME_L, min_border_right=W - FRAME_R, min_border_top=TOP_GAP,
               min_border_bottom=P["bb"], margin=(-OVERLAP, 0, 0, 0))
    p.background_fill_color = "white"
    p.border_fill_color = None
    p.outline_line_color = "black"
    p.outline_line_width = 3

    p.xgrid.visible = False
    p.ygrid.ticker = FixedTicker(ticks=y_ticks[k])
    p.ygrid.grid_line_color = "#a8a8a8"
    p.ygrid.grid_line_width = 2

    p.yaxis.ticker = FixedTicker(ticks=y_ticks[k])
    p.yaxis.minor_tick_line_color = None
    p.yaxis.major_tick_in = 0
    p.yaxis.major_tick_out = 8
    p.yaxis.major_tick_line_width = 1.5
    p.yaxis.axis_line_width = 3
    p.yaxis.major_label_text_font = TICK_FONT
    p.yaxis.major_label_text_font_size = "17px"
    p.yaxis.major_label_text_color = TEXT_COLOR
    p.yaxis.major_label_standoff = 3

    p.xaxis.ticker = FixedTicker(ticks=x_ticks)
    p.xaxis.formatter = CustomJSTickFormatter(code="""
        const d = new Date(tick);
        return d.getUTCMonth() == 0 ? d.getUTCFullYear() + "/01" : "";
    """)
    p.xaxis.minor_tick_line_color = None
    p.xaxis.major_tick_in = 0
    p.xaxis.major_tick_out = 8
    p.xaxis.major_tick_line_width = 1.5
    p.xaxis.axis_line_width = 3
    p.xaxis.major_label_text_font = TICK_FONT
    p.xaxis.major_label_text_font_size = "17px"
    p.xaxis.major_label_text_color = TEXT_COLOR
    p.xaxis.major_label_standoff = P["std"]

    # 東 / 西 on the right, as tick labels of a right-hand axis
    e_pos, w_pos = east_west_pos[k]
    ew_axis = LinearAxis(ticker=FixedTicker(ticks=[e_pos, w_pos]),
                         formatter=CustomJSTickFormatter(
                             args=dict(e=east_text, w=west_text),
                             code="return tick > 0 ? e : w;"),
                         axis_line_color=None, major_tick_line_color=None,
                         minor_tick_line_color=None, major_tick_out=0, major_tick_in=0,
                         major_label_standoff=13, major_label_text_font=JP_FONT,
                         major_label_text_font_size="19px", major_label_text_color=TEXT_COLOR)
    p.add_layout(ew_axis, "right")

    if k > 0:
        p.add_layout(Span(location=0, dimension="width",
                          line_color="#555555" if k == 2 else "#7a7a7a", line_width=1.2))

    p.scatter(xs, ys, marker="circle", size=7, line_color="black", line_width=1.5,
              fill_color="white")

    if k == 2:
        p.add_layout(BoxAnnotation(left=ms("2009-01-19"), right=ms("2009-05-10"), top=7.2,
                                   bottom=-5.2, fill_alpha=0, fill_color=None, line_color="red",
                                   line_alpha=1.0, line_width=3, line_dash="3 4"))
        p.add_layout(Arrow(end=NormalHead(size=16, fill_color="black", line_color="black"),
                           x_start=ms("2009-08-30"), y_start=8.5, x_end=ms("2009-05-27"),
                           y_end=4.9, line_width=2, line_color="black"))
    return p


children = []
for k in range(3):
    children.append(header_fig(k))
    children.append(plot_fig(k))

layout = column(*children, spacing=0)
open("out.html", "w").write(file_html(layout, INLINE))
